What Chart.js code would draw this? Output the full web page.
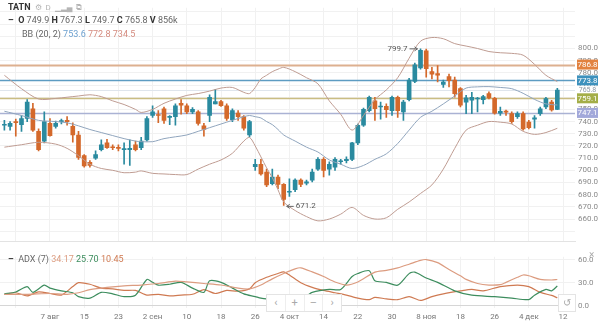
<!DOCTYPE html>
<html>
<head>
<meta charset="utf-8">
<script src="https://cdn.jsdelivr.net/npm/chart.js@4.4.0/dist/chart.umd.min.js"></script>
<style>
  html, body { margin: 0; padding: 0; background: #fff; }
  #wrap { position: relative; width: 600px; height: 326px; overflow: hidden; font-family: Roboto, Arial, sans-serif; }
  #priceCanvas { position: absolute; left: 0; top: 0; }
  #adxCanvas { position: absolute; left: 0; top: 249px; }
  .legend { position: absolute; font-size: 9px; line-height: 11px; color: #666; white-space: nowrap; }
  .legend b { color: #333; }
  .ico { color: #b5b5b5; margin-left: 4px; font-size: 8px; }
  #zoomBar { position: absolute; left: 266px; top: 294px; width: 74px; height: 16px; background: #fff;
             border: 1px solid #e4e4e4; display: flex; }
  #zoomBar span { flex: 1; text-align: center; color: #aaa; font-size: 11px; line-height: 16px; border-left: 1px solid #eee; }
  #zoomBar span:first-child { border-left: none; }
  #resetBtn { position: absolute; left: 558px; top: 294px; width: 16px; height: 16px; background: #fff;
              border: 1px solid #e4e4e4; color: #aaa; font-size: 10px; line-height: 16px; text-align: center; }
  #closeBtn { position: absolute; left: 589px; top: 249px; color: #aaa; font-size: 10px; }
</style>
</head>
<body>
<div id="wrap">
  <canvas id="priceCanvas" width="600" height="249"></canvas>
  <canvas id="adxCanvas" width="600" height="77"></canvas>

  <div class="legend" style="left:8px;top:2px;">
    <b>TATN</b><span class="ico">&#9881;</span><span class="ico">D</span><span class="ico">&#9601;&#9602;&#9604;</span><span class="ico">&#10697;</span>
  </div>
  <div class="legend" id="ohlcRow" style="left:8px;top:15px;"></div>
  <div class="legend" id="bbRow" style="left:22px;top:29px;"></div>
  <div class="legend" id="adxRow" style="left:8px;top:254px;"></div>

  <div id="zoomBar"><span>&#8249;</span><span>+</span><span>&#8211;</span><span>&#8250;</span></div>
  <div id="resetBtn">&#8634;</div>
  <div id="closeBtn">&#215;</div>
</div>

<script>
// ---- daily candles, TATN ----
const opens = [737, 736, 740, 737.5, 742.5, 750.5, 732, 724, 738.5, 736,
  740, 741, 736, 729, 712, 706.5, 710, 717, 722.5, 719,
  718.5, 717, 717, 721, 718.5, 725, 745, 745.5, 750.5, 743.5,
  744, 755, 753, 748, 748, 736.5, 745, 754.5, 756.5, 753,
  741.5, 747, 744, 729, 703, 705, 698.5, 689, 694.5, 688.5,
  682, 684, 692, 689.5, 692, 701, 709, 701, 702.5, 707,
  708, 709, 722.5, 737, 749, 757, 752, 752.5, 749, 760,
  748, 758, 773, 784, 798, 781, 779.5, 770.5, 777, 774,
  767, 756, 757.5, 758.5, 758, 763, 759, 747, 748, 746.5,
  744, 746.5, 739.5, 742, 746.5, 752, 756, 749.9];
const highs = [741, 740, 742, 745, 758, 755, 734, 748, 742.5, 740.5,
  742, 744, 739, 732, 713, 708, 716, 725, 725.5, 721,
  721, 722.5, 725, 724, 727, 744, 753, 749, 752, 745,
  754.5, 758, 754.5, 751.5, 749, 738.5, 762, 766.5, 757.5, 754.5,
  750.5, 749, 745, 741, 709, 709, 701, 701, 696, 689,
  693, 693, 693, 692, 701, 710.5, 710.5, 707, 710.5, 709,
  711, 723, 738, 751, 761, 760, 756, 754.5, 761, 761,
  757.5, 775.5, 788, 799.7, 799.5, 784.5, 786, 774, 779, 776.5,
  768, 761.5, 764, 760, 761.5, 764.5, 760, 752, 749.5, 748,
  748, 748, 741, 745, 752, 760, 757.5, 767.3];
const lows = [733, 733, 728, 732, 740, 732, 716, 722.5, 728, 734.5,
  738, 737, 723, 709, 702.5, 702.5, 709, 716, 718, 717,
  716, 705, 704, 716, 717, 724, 743.5, 739, 738.5, 737.5,
  737, 746, 746.5, 746.5, 737, 728, 740, 754.5, 752.5, 741,
  740, 741, 733, 727.5, 700, 696, 686.5, 688, 685, 671.2,
  678.5, 682.5, 686.5, 688, 690.5, 700, 694.5, 696, 700, 705,
  706, 708, 721, 736, 748, 741, 742, 743.5, 745, 743.5,
  741, 757, 772, 783, 776.5, 775, 772.5, 768, 768.5, 760,
  752, 746.5, 746.5, 748, 754.5, 758.5, 746, 745, 745, 738.5,
  742.5, 733, 734, 734.5, 745, 750.5, 748.5, 749.7];
const closes = [737.5, 738.5, 739, 742.5, 756, 733, 717, 740, 728.5, 738.5,
  740.3, 740, 729, 710.5, 703.5, 704, 713, 721, 718.5, 718.5,
  718, 717.5, 718, 717, 724, 742.5, 748, 745, 741, 744,
  753, 753.5, 748, 750, 738.5, 733.5, 760, 756.5, 753, 742.5,
  749, 744, 734.5, 740, 705, 697, 688, 694.5, 688.5, 676,
  682.5, 692, 688.5, 690.5, 698.5, 709, 700, 705, 709, 707.5,
  709, 722.5, 737, 750, 760, 750.5, 752.3, 749.7, 760, 749,
  756, 774, 786.5, 798.5, 783.5, 779, 778, 772.5, 773.5, 763,
  753.5, 759.5, 760, 759, 760.5, 759.5, 747, 748.5, 747.8, 740,
  746.5, 734, 735, 743, 750.5, 758.8, 749.5, 765.8];
const lastVolume = '856k';

// date axis: every 6th session gets a grid line
const tickIdx = [2, 8, 14, 20, 26, 32, 38, 44, 50, 56, 62, 68, 74, 80, 86, 92, 98];
const tickLabels = ['', '7 авг', '15', '23', '2 сен', '10', '18', '26', '4 окт', '14', '22', '30', '8 ноя', '18', '26', '4 дек', '12'];

// Bollinger Bands (20, 2)
const bbIdx = [0, 3, 6, 9, 11, 13, 15, 17, 19, 21, 23, 24, 26, 28, 30, 32, 34, 36, 38, 40,
  42, 43, 44, 45, 46, 47, 48, 49, 51, 53, 55, 57, 59, 61, 63, 65, 67, 69, 71, 73,
  75, 77, 79, 81, 83, 85, 87, 89, 91, 93, 95, 97];
const bbUpper = [778, 767, 758.5, 759, 760, 761, 762, 760.5, 757, 754, 750, 747.5, 750, 755, 758.5, 761.5, 763, 765, 767.5, 768,
  764, 763, 768, 775, 778, 781, 783, 784.5, 781, 776, 771, 757, 746, 733, 745, 758, 766, 776, 792, 806,
  809, 808, 804, 802, 800, 797.5, 796.5, 796, 794.5, 787, 778, 772.8];
const bbMiddle = [748.5, 745, 741, 740, 739, 736.5, 733.5, 731, 728.5, 726, 724, 723.5, 723.5, 726, 727.5, 729, 732, 735, 738, 741,
  744, 745, 744, 743, 740, 737.5, 733.5, 729, 724, 719, 715, 708.5, 705, 701.5, 704, 709, 713.5, 722, 733, 743.5,
  748.5, 754.5, 761, 767.5, 768.5, 768.7, 768, 767, 763.2, 758.2, 754.5, 753.6];
const bbLower = [719, 721, 723, 721.5, 718, 712, 705, 701.5, 700, 698, 698.5, 699.5, 697.5, 697, 696.5, 696.5, 701, 705, 708.5, 714,
  724, 727, 720, 711, 702, 694, 684, 674, 667, 662, 658.5, 660, 664, 669.5, 663, 660, 661, 668, 674, 681,
  688, 701, 718, 733, 737, 740, 739.5, 738, 732, 729.5, 731, 734.5];

// horizontal levels on the price pane
const levelValues = [786.8, 773.8, 759.1, 747.1];

// ADX (7) pane
const adxIdx = [0, 4, 8, 11, 13, 15, 18, 21, 24, 27, 30, 32, 35, 38, 41, 43, 45, 47, 49, 51,
  52, 54, 56, 58, 60, 62, 65, 67, 69, 71, 73, 74, 76, 78, 80, 81, 83, 85, 87, 88,
  90, 91, 92, 94, 96, 97];
const adxValues = [15, 15, 16, 15, 17, 21, 24, 26, 27, 29, 32, 31, 29, 27, 23, 22, 27, 35, 42, 48,
  49.3, 44, 38, 31, 27, 31, 43.7, 46, 49.3, 54, 59, 60, 56, 47, 39, 34.3, 29, 27, 27.5, 30.5,
  37, 40, 39, 34.3, 33.5, 34.17];
const pdiIdx = [0, 2, 4, 5, 7, 8, 10, 12, 13, 15, 17, 19, 21, 23, 25, 26, 27, 29, 31, 33,
  35, 36, 38, 40, 42, 44, 45, 47, 49, 51, 53, 54, 57, 59, 61, 62, 64, 65, 67, 69,
  71, 72, 74, 76, 79, 82, 86, 89, 92, 93, 95, 96, 97];
const pdiValues = [15.6, 18, 25, 17.5, 26.9, 23, 19.4, 17, 12, 10, 17.5, 15.6, 12, 13.8, 34.3, 30.5, 26.8, 28, 30.5, 23,
  17.5, 32.5, 30.5, 23, 15.6, 12, 10, 8, 6, 9, 13, 17.5, 21.3, 21.3, 38, 42, 45.6, 32.5, 30.5, 26.8,
  41.8, 43.7, 36.2, 30.5, 19.4, 13.8, 11.9, 10, 8.1, 13.8, 21.3, 19.4, 25.7];
const mdiIdx = [0, 2, 4, 6, 8, 10, 12, 13, 15, 17, 19, 21, 23, 25, 27, 29, 31, 33, 35, 37,
  39, 41, 43, 44, 46, 48, 49, 50, 52, 54, 56, 58, 60, 62, 64, 65, 67, 69, 71, 73,
  75, 77, 80, 82, 84, 87, 90, 92, 94, 96, 97];
const mdiValues = [15, 17, 13, 18, 16, 14, 25, 30, 28, 23, 22, 20, 20, 14, 15, 13, 14, 15, 21, 16,
  20, 19, 22, 30, 37, 42, 44, 40, 30, 24, 20, 17, 14, 10, 8, 11, 9, 8, 12, 7,
  12, 15.6, 19.4, 21.3, 19.4, 25, 27, 25, 17.5, 13.5, 10.45];
const adxTicks = [0, 30, 60];

// ---- styles ----
const UP = '#2a8a9f', DOWN = '#d4692b';
const levelBoxColors = ['#e2823f', '#3d91bd', '#a4ae48', '#a2a8da'];
const levelLineColors = ['#ddb08f', '#5d9cc2', '#cabd82', '#aab2d4'];
const BB_EDGE = '#bf9c92', BB_MID = '#90a5bd';
const ADX_COL = '#dc9c80', PDI_COL = '#3d8d5e', MDI_COL = '#cf7a52';
const X_MIN = -0.77, X_MAX = 100.1;

Chart.defaults.font.family = 'Roboto, Arial, sans-serif';

const candleColors = closes.map((c, i) => c >= opens[i] ? UP : DOWN);
const toPoints = (idx, vals) => idx.map((x, k) => ({ x: x, y: vals[k] }));
const fmt = v => v.toFixed(1);

// legend rows
const n = closes.length - 1;
document.getElementById('ohlcRow').innerHTML =
  '<b>&#8211;</b>&nbsp; <b>O</b> ' + fmt(opens[n]) + ' <b>H</b> ' + fmt(highs[n]) +
  ' <b>L</b> ' + fmt(lows[n]) + ' <b>C</b> ' + fmt(closes[n]) + ' <b>V</b> ' + lastVolume;
document.getElementById('bbRow').innerHTML =
  'BB (20, 2) <span style="color:#6a9fcf">' + fmt(bbMiddle[bbMiddle.length - 1]) + '</span> ' +
  '<span style="color:#d48a7e">' + fmt(bbUpper[bbUpper.length - 1]) + '</span> ' +
  '<span style="color:#d48a7e">' + fmt(bbLower[bbLower.length - 1]) + '</span>';
document.getElementById('adxRow').innerHTML =
  '<b>&#8211;</b>&nbsp; ADX (7) <span style="color:' + ADX_COL + '">' + adxValues[adxValues.length - 1].toFixed(2) + '</span> ' +
  '<span style="color:' + PDI_COL + '">' + pdiValues[pdiValues.length - 1].toFixed(2) + '</span> ' +
  '<span style="color:' + MDI_COL + '">' + mdiValues[mdiValues.length - 1].toFixed(2) + '</span>';

// level lines under the candles, price tags and extremes on top
const priceLines = {
  id: 'priceLines',
  beforeDatasetsDraw(chart) {
    const { ctx, chartArea: a, scales: { y } } = chart;
    ctx.save();
    const cy = Math.round(y.getPixelForValue(closes[n])) + 0.5;
    ctx.strokeStyle = '#dfe5ec';
    ctx.lineWidth = 1;
    ctx.beginPath(); ctx.moveTo(a.left, cy); ctx.lineTo(a.right, cy); ctx.stroke();
    levelValues.forEach((v, k) => {
      const py = Math.round(y.getPixelForValue(v)) + 0.5;
      ctx.strokeStyle = levelLineColors[k];
      ctx.lineWidth = k === 0 ? 2 : 1.3;
      ctx.beginPath(); ctx.moveTo(a.left, py); ctx.lineTo(a.right, py); ctx.stroke();
    });
    ctx.restore();
  },
  afterDraw(chart) {
    const { ctx, chartArea: a, scales: { x, y } } = chart;
    ctx.save();
    ctx.textBaseline = 'middle';

    // last close tag (no box)
    const cy = y.getPixelForValue(closes[n]);
    ctx.fillStyle = '#fff';
    ctx.fillRect(a.right + 2, cy - 4, 22, 8);
    ctx.fillStyle = '#8c97a3';
    ctx.font = '7px Roboto, Arial, sans-serif';
    ctx.textAlign = 'center';
    ctx.fillText(fmt(closes[n]), a.right + 12.5, cy + 0.5);

    ctx.font = '8px Roboto, Arial, sans-serif';
    levelValues.forEach((v, k) => {
      const py = y.getPixelForValue(v);
      ctx.fillStyle = levelBoxColors[k];
      ctx.fillRect(a.right + 2, py - 5, 21, 10);
      ctx.fillStyle = '#fff';
      ctx.fillText(fmt(v), a.right + 12.5, py + 0.5);
    });

    // highest high / lowest low markers
    const hi = Math.max(...highs), hiI = highs.indexOf(hi);
    const lo = Math.min(...lows), loI = lows.indexOf(lo);
    ctx.strokeStyle = '#666';
    ctx.fillStyle = '#555';
    ctx.lineWidth = 1;

    let px = x.getPixelForValue(hiI) - 3, py = y.getPixelForValue(hi);
    ctx.beginPath(); ctx.moveTo(px - 8, py); ctx.lineTo(px, py);
    ctx.moveTo(px - 3, py - 2); ctx.lineTo(px, py); ctx.lineTo(px - 3, py + 2); ctx.stroke();
    ctx.textAlign = 'right';
    ctx.fillText(fmt(hi), px - 10, py);

    px = x.getPixelForValue(loI) + 3; py = y.getPixelForValue(lo) + 1;
    ctx.beginPath(); ctx.moveTo(px, py); ctx.lineTo(px + 7, py);
    ctx.moveTo(px + 3, py - 2); ctx.lineTo(px, py); ctx.lineTo(px + 3, py + 2); ctx.stroke();
    ctx.textAlign = 'left';
    ctx.fillText(fmt(lo), px + 9, py);
    ctx.restore();
  }
};

const lineSet = (label, idx, vals, color, order) => ({
  type: 'line', label: label, data: toPoints(idx, vals), borderColor: color,
  borderWidth: 1, pointRadius: 0, tension: 0.3, order: order
});

// Price pane
new Chart(document.getElementById('priceCanvas'), {
  type: 'bar',
  data: {
    datasets: [
      lineSet('BB upper', bbIdx, bbUpper, BB_EDGE, 0),
      lineSet('BB middle', bbIdx, bbMiddle, BB_MID, 0),
      lineSet('BB lower', bbIdx, bbLower, BB_EDGE, 0),
      {
        label: 'body', data: opens.map((o, i) => ({ x: i, y: [o, closes[i]] })),
        backgroundColor: candleColors, barThickness: 4, minBarLength: 1, grouped: false, order: 1
      },
      {
        label: 'wick', data: lows.map((l, i) => ({ x: i, y: [l, highs[i]] })),
        backgroundColor: candleColors, barThickness: 1, grouped: false, order: 2
      }
    ]
  },
  options: {
    responsive: false,
    animation: false,
    events: [],
    layout: { padding: 0 },
    plugins: { legend: { display: false }, tooltip: { enabled: false } },
    scales: {
      x: {
        type: 'linear', min: X_MIN, max: X_MAX, offset: false,
        afterBuildTicks: s => { s.ticks = tickIdx.map(v => ({ value: v })); },
        ticks: { display: false },
        grid: { color: '#f1f1f1', drawTicks: false, offset: false },
        border: { display: true, color: '#e3e3e3' }
      },
      y: {
        position: 'right', min: 641.8, max: 833.4,
        afterBuildTicks: s => {
          s.ticks = [];
          for (let v = 650; v <= 830; v += 10) s.ticks.push({ value: v });
        },
        afterFit: s => { s.width = 25; },
        ticks: {
          callback: v => (v >= 660 && v <= 800) ? fmt(v) : '',
          font: { size: 8 }, color: '#8a8a8a', padding: 3
        },
        grid: { color: '#f1f1f1', drawTicks: false },
        border: { display: false }
      }
    }
  },
  plugins: [priceLines]
});

// ADX pane
const adxLine = (label, idx, vals, color) => ({
  label: label, data: toPoints(idx, vals), borderColor: color,
  borderWidth: 1.2, pointRadius: 0, tension: 0.25
});

new Chart(document.getElementById('adxCanvas'), {
  type: 'line',
  data: {
    datasets: [
      adxLine('ADX', adxIdx, adxValues, ADX_COL),
      adxLine('+DI', pdiIdx, pdiValues, PDI_COL),
      adxLine('-DI', mdiIdx, mdiValues, MDI_COL)
    ]
  },
  options: {
    responsive: false,
    animation: false,
    events: [],
    layout: { padding: 0 },
    plugins: { legend: { display: false }, tooltip: { enabled: false } },
    scales: {
      x: {
        type: 'linear', min: X_MIN, max: X_MAX,
        afterBuildTicks: s => { s.ticks = tickIdx.map(v => ({ value: v })); },
        ticks: {
          callback: v => tickLabels[tickIdx.indexOf(v)],
          font: { size: 8 }, color: '#777', maxRotation: 0, autoSkip: false, padding: 4
        },
        grid: { color: '#f1f1f1', drawTicks: false },
        border: { display: false }
      },
      y: {
        position: 'right', min: -3.3, max: 63.6,
        afterBuildTicks: s => { s.ticks = adxTicks.map(v => ({ value: v })); },
        afterFit: s => { s.width = 25; },
        ticks: { callback: v => fmt(v), font: { size: 8 }, color: '#8a8a8a', padding: 3 },
        grid: { color: c => c.tick && c.tick.value === 0 ? '#d6d6d6' : '#f1f1f1', drawTicks: false },
        border: { display: false }
      }
    }
  }
});
</script>
</body>
</html>
